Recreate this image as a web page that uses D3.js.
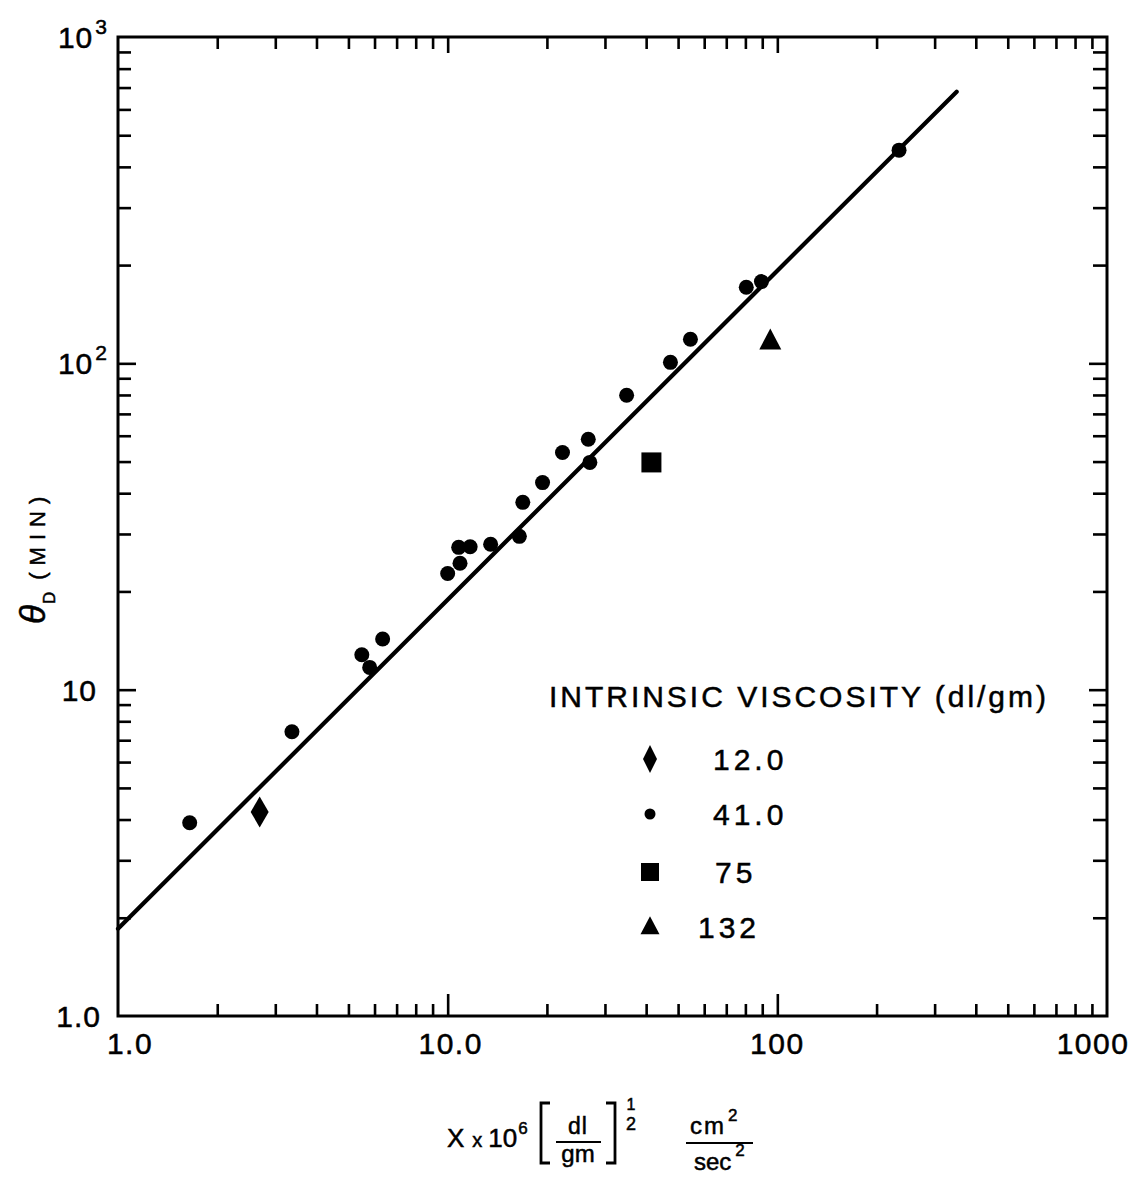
<!DOCTYPE html>
<html>
<head>
<meta charset="utf-8">
<script src="https://cdn.jsdelivr.net/npm/d3@7/dist/d3.min.js"></script>
<style>
  html, body { margin: 0; padding: 0; background: #fff; }
  svg { display: block; }
  text { font-family: "Liberation Sans", Arial, sans-serif; fill: #000; stroke: #000; stroke-width: 0.5px; }
</style>
</head>
<body>
<svg id="chart" width="1138" height="1184"></svg>
<script>
// Intrinsic viscosity 41.0 dl/gm (filled circles): [X, theta_D]
const circlePts = [
  [1.65, 3.91], [3.37, 7.43], [5.49, 12.8], [5.80, 11.7], [6.35, 14.3],
  [10.0, 22.7], [10.9, 24.4], [10.8, 27.3], [11.7, 27.4], [13.5, 27.9],
  [16.5, 29.5], [16.9, 37.5], [19.4, 43.1], [22.3, 53.3], [26.7, 58.5],
  [27.0, 49.7], [34.9, 79.8], [47.4, 100.7], [54.5, 118.5], [80.5, 171],
  [89.5, 178], [234, 450]
];
// Intrinsic viscosity 12.0 (diamond)
const diamondPts = [[2.69, 4.22]];
// Intrinsic viscosity 75 (square)
const squarePts = [[41.5, 49.7]];
// Intrinsic viscosity 132 (triangle)
const trianglePts = [[95.2, 117]];

// Correlation line end points
const fitX = [1, 350];
const fitY = [1.85, 680];

// Axis labels
const xMajor = [1, 10, 100, 1000];
const xTickLabels = ["1.0", "10.0", "100", "1000"];
const yMajor = [1, 10, 100, 1000];
const yTickLabels = [["1.0", ""], ["10", ""], ["10", "2"], ["10", "3"]];

const legendLabels = ["12.0", "41.0", "75", "132"];
const legendTitle = "INTRINSIC VISCOSITY (dl/gm)";

const svg = d3.select("#chart");
const L = 118, R = 1107, T = 37, B = 1016;

const x = d3.scaleLog().domain([1, 1000]).range([L, R]);
const y = d3.scaleLog().domain([1, 1000]).range([B, T]);

const minorX = x.ticks().filter(v => !xMajor.includes(v));
const minorY = y.ticks().filter(v => !yMajor.includes(v));

function tickAxis(axisGen, scale, transform, major, minor, majLen, minLen) {
  const g = svg.append("g").attr("transform", transform);
  g.call(axisGen(scale).tickValues(minor).tickSize(-minLen).tickFormat(""));
  const g2 = svg.append("g").attr("transform", transform);
  g2.call(axisGen(scale).tickValues(major.filter(v => v !== 1 && v !== 1000)).tickSize(-majLen).tickFormat(""));
  [g, g2].forEach(gg => {
    gg.select(".domain").remove();
    gg.selectAll("line").attr("stroke", "#000").attr("stroke-width", 2.6);
  });
}

// Inward ticks on all four sides
tickAxis(d3.axisBottom, x, `translate(0,${B})`, xMajor, minorX, 22, 12);
tickAxis(d3.axisTop, x, `translate(0,${T})`, xMajor, minorX, 16, 12);
tickAxis(d3.axisLeft, y, `translate(${L},0)`, yMajor, minorY, 18, 13);
tickAxis(d3.axisRight, y, `translate(${R},0)`, yMajor, minorY, 18, 14);

// Frame
svg.append("rect")
  .attr("x", L).attr("y", T).attr("width", R - L).attr("height", B - T)
  .attr("fill", "none").attr("stroke", "#000").attr("stroke-width", 3);

// X tick labels
const xShift = [12, 3, 0, -14];
svg.append("g").selectAll("text").data(xMajor).join("text")
  .attr("x", (d, i) => x(d) + xShift[i])
  .attr("y", B + 38)
  .attr("text-anchor", "middle")
  .attr("font-size", 30)
  .attr("letter-spacing", 1.5)
  .text((d, i) => xTickLabels[i]);

// Y tick labels
const yEnd = [L - 17, L - 21, L - 10, L - 10];
const yl = svg.append("g").selectAll("text").data(yMajor).join("text")
  .attr("x", (d, i) => yEnd[i])
  .attr("y", d => y(d) + 11)
  .attr("text-anchor", "end")
  .attr("font-size", 30)
  .attr("letter-spacing", 1);
yl.append("tspan").text((d, i) => yTickLabels[i][0]);
yl.append("tspan")
  .attr("font-size", 21).attr("dy", -14).attr("dx", 2)
  .text((d, i) => yTickLabels[i][1]);

// Correlation line
svg.append("line")
  .attr("x1", x(fitX[0])).attr("y1", y(fitY[0]))
  .attr("x2", x(fitX[1])).attr("y2", y(fitY[1]))
  .attr("stroke", "#000").attr("stroke-width", 4.2).attr("stroke-linecap", "round");

// Data markers
svg.append("g").selectAll("circle").data(circlePts).join("circle")
  .attr("cx", d => x(d[0])).attr("cy", d => y(d[1])).attr("r", 7.5).attr("fill", "#000");

const diamondPath = (cx, cy, w, h) => `M${cx},${cy - h / 2}L${cx + w / 2},${cy}L${cx},${cy + h / 2}L${cx - w / 2},${cy}Z`;
const trianglePath = (cx, cy, w, h) => `M${cx},${cy - h * 0.6}L${cx + w / 2},${cy + h * 0.4}L${cx - w / 2},${cy + h * 0.4}Z`;

svg.append("g").selectAll("path").data(diamondPts).join("path")
  .attr("d", d => diamondPath(x(d[0]), y(d[1]), 18, 31)).attr("fill", "#000");
svg.append("g").selectAll("rect").data(squarePts).join("rect")
  .attr("x", d => x(d[0]) - 10).attr("y", d => y(d[1]) - 10)
  .attr("width", 20).attr("height", 20).attr("fill", "#000");
svg.append("g").selectAll("path").data(trianglePts).join("path")
  .attr("d", d => trianglePath(x(d[0]), y(d[1]), 22, 21)).attr("fill", "#000");

// Legend
const lg = svg.append("g");
lg.append("text")
  .attr("x", 549).attr("y", 707)
  .attr("font-size", 30)
  .attr("textLength", 497).attr("lengthAdjust", "spacing")
  .text(legendTitle);

const legendRows = [759, 814, 872, 927];
const mx = 650;
lg.append("path").attr("d", diamondPath(mx, legendRows[0], 14, 28)).attr("fill", "#000");
lg.append("circle").attr("cx", mx).attr("cy", legendRows[1]).attr("r", 5.5).attr("fill", "#000");
lg.append("rect").attr("x", mx - 9).attr("y", legendRows[2] - 9).attr("width", 18).attr("height", 18).attr("fill", "#000");
lg.append("path").attr("d", trianglePath(mx, legendRows[3], 19, 18)).attr("fill", "#000");

const labelX = [713, 713, 715, 698];
lg.selectAll("text.lab").data(legendLabels).join("text")
  .attr("class", "lab")
  .attr("x", (d, i) => labelX[i])
  .attr("y", (d, i) => legendRows[i] + 11)
  .attr("font-size", 30)
  .attr("letter-spacing", 4)
  .text(d => d);

// Y axis title: theta_D (MIN)
const yt = svg.append("text")
  .attr("transform", "translate(45,624) rotate(-90)")
  .attr("font-size", 35);
yt.append("tspan").attr("font-style", "italic").text("θ");
yt.append("tspan").attr("font-size", 17).attr("dy", 10).attr("dx", 1).text("D");
yt.append("tspan").attr("font-size", 22).attr("dy", -10).attr("dx", 12)
  .attr("letter-spacing", 7).text("(MIN)");

// X axis title: X x 10^6 [dl/gm]^(1/2) cm^2/sec^2
const xt = svg.append("g");
const t1 = xt.append("text").attr("x", 447).attr("y", 1147).attr("font-size", 26);
t1.append("tspan").text("X");
t1.append("tspan").attr("dx", 8).attr("font-size", 20).text("x");
t1.append("tspan").attr("dx", 6).text("10");
t1.append("tspan").attr("font-size", 17).attr("dy", -13).attr("dx", 1).text("6");

// square brackets
xt.append("path").attr("d", "M550,1103 L541,1103 L541,1163 L550,1163")
  .attr("fill", "none").attr("stroke", "#000").attr("stroke-width", 2.8);
xt.append("path").attr("d", "M606,1103 L615,1103 L615,1163 L606,1163")
  .attr("fill", "none").attr("stroke", "#000").attr("stroke-width", 2.8);
xt.append("text").attr("x", 578).attr("y", 1134).attr("text-anchor", "middle").attr("font-size", 23)
  .attr("letter-spacing", 1).text("dl");
xt.append("line").attr("x1", 556).attr("x2", 601).attr("y1", 1142).attr("y2", 1142)
  .attr("stroke", "#000").attr("stroke-width", 2);
xt.append("text").attr("x", 578).attr("y", 1162).attr("text-anchor", "middle").attr("font-size", 24).text("gm");

// exponent 1/2
xt.append("text").attr("x", 631).attr("y", 1110).attr("text-anchor", "middle").attr("font-size", 16).text("1");
xt.append("text").attr("x", 631).attr("y", 1130).attr("text-anchor", "middle").attr("font-size", 18).text("2");

// cm^2 / sec^2
const cm = xt.append("text").attr("x", 690).attr("y", 1134).attr("font-size", 24);
cm.append("tspan").attr("letter-spacing", 2).text("cm");
cm.append("tspan").attr("font-size", 17).attr("dy", -13).attr("dx", 2).text("2");
xt.append("line").attr("x1", 686).attr("x2", 753).attr("y1", 1143).attr("y2", 1143)
  .attr("stroke", "#000").attr("stroke-width", 2);
const sec = xt.append("text").attr("x", 694).attr("y", 1170).attr("font-size", 24);
sec.append("tspan").text("sec");
sec.append("tspan").attr("font-size", 17).attr("dy", -14).attr("dx", 4).text("2");
</script>
</body>
</html>
